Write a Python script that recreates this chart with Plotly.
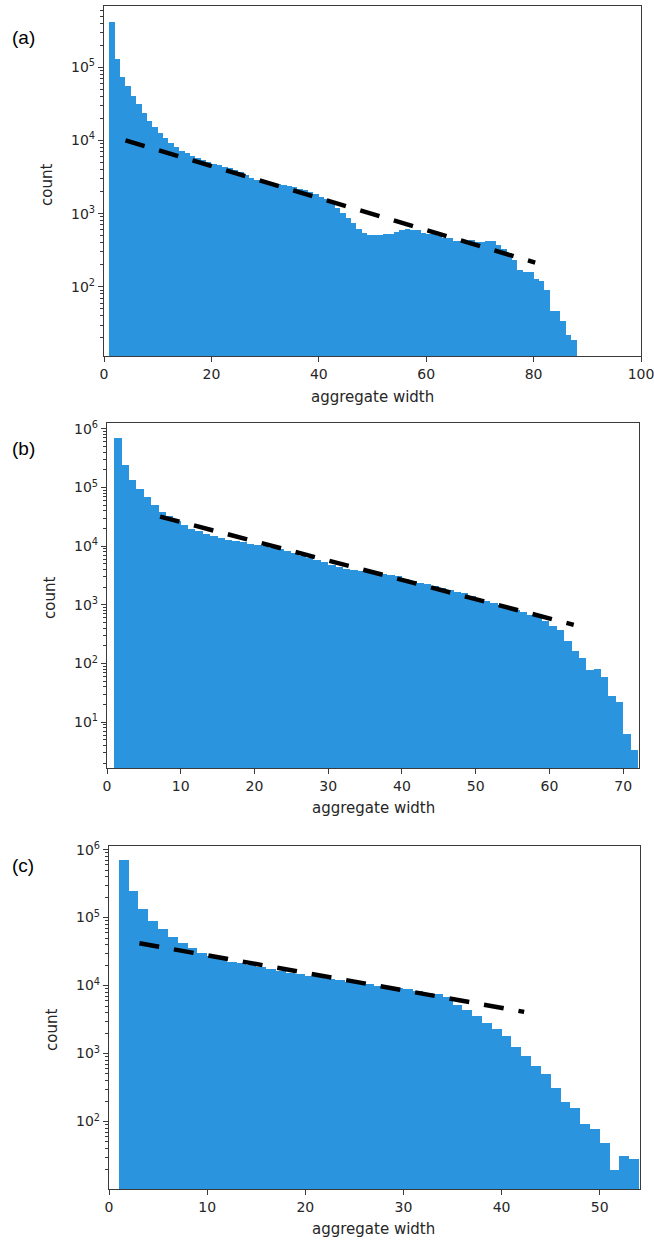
import plotly.graph_objects as go

# Histogram bin edges (aggregate width) for the three samples
a_edges = list(range(1, 89))
b_edges = list(range(1, 73))
c_edges = list(range(1, 55))

# Counts per bin
a_counts = [
    4.1e5, 1.29e5, 7.4e4, 5.5e4, 4.0e4, 3.1e4, 2.4e4, 1.86e4, 1.54e4, 1.25e4,
    1.09e4, 9300, 8200, 7200, 6800, 6100, 5800, 5400, 5100, 4800,
    4600, 4400, 4200, 4000, 3700, 3400, 3100, 2900, 2750, 2650,
    2600, 2500, 2450, 2350, 2300, 2200, 2100, 2000, 1850, 1700,
    1600, 1400, 1200, 1020, 870, 750, 620, 545, 510, 505,
    510, 525, 530, 555, 590, 620, 600, 590, 540, 530,
    530, 490, 465, 465, 420, 420, 420, 430, 410, 410,
    420, 420, 377, 333, 290, 234, 170, 157, 157, 128,
    120, 90, 47, 47, 34, 22, 18.6,
]
b_counts = [
    6.9e5, 2.41e5, 1.32e5, 9.5e4, 7.0e4, 5.1e4, 3.9e4, 3.28e4, 2.7e4, 2.28e4,
    2.0e4, 1.8e4, 1.62e4, 1.5e4, 1.39e4, 1.3e4, 1.24e4, 1.16e4, 1.1e4, 1.06e4,
    1.02e4, 9500, 8900, 8300, 7600, 6900, 6400, 5900, 5300, 4800,
    4470, 4080, 3930, 3820, 3730, 3590, 3360, 3230, 3070, 2760,
    2510, 2360, 2270, 2080, 1950, 1800, 1680, 1600, 1440, 1260,
    1180, 1080, 980, 915, 830, 750, 675, 617, 540, 440,
    366, 238, 164, 124, 79, 82, 59, 28, 22, 6.3,
    3.3,
]
c_counts = [
    7.1e5, 2.44e5, 1.34e5, 8.8e4, 6.8e4, 5.2e4, 4.2e4, 3.55e4, 3.03e4, 2.71e4,
    2.43e4, 2.19e4, 2.12e4, 2.02e4, 1.87e4, 1.77e4, 1.65e4, 1.51e4, 1.46e4, 1.38e4,
    1.32e4, 1.26e4, 1.2e4, 1.14e4, 1.1e4, 1.05e4, 9900, 9600, 9200, 8800,
    8300, 7800, 7500, 6900, 5170, 4370, 3560, 2840, 2270, 1830,
    1260, 922, 664, 500, 315, 193, 157, 92, 78, 48,
    19.5, 31, 28,
]

# Exponential fits (straight lines on the log axis): end points
a_fit_x = [4.0, 80.3]
a_fit_y = [1.0e4, 214]
b_fit_x = [7.2, 63.3]
b_fit_y = [3.2e4, 457]
c_fit_x = [3.1, 42.3]
c_fit_y = [4.2e4, 4.1e3]

# Tick values and labels
a_xticks = [0, 20, 40, 60, 80, 100]
b_xticks = [0, 10, 20, 30, 40, 50, 60, 70]
c_xticks = [0, 10, 20, 30, 40, 50]
y_tickvals = [10, 100, 1000, 10000, 100000, 1000000]
y_ticktext = ["10<sup>1</sup>", "10<sup>2</sup>", "10<sup>3</sup>",
              "10<sup>4</sup>", "10<sup>5</sup>", "10<sup>6</sup>"]
# log minor ticks at 2..9 times each decade
y_minor_vals = [m * 10 ** e for e in range(0, 7) for m in range(2, 10)]

BAR_COLOR = "#2a94de"
TEXT = "#262626"
W, H = 654, 1240

panels = [
    dict(edges=a_edges, counts=a_counts, fx=a_fit_x, fy=a_fit_y, xticks=a_xticks,
         xr=[0, 100], yr=[1.055, 5.836], box=(104, 641, 6, 356), label="(a)",
         label_xy=(23, 38), count_xy=(47, 185), xt_xy=(372, 397)),
    dict(edges=b_edges, counts=b_counts, fx=b_fit_x, fy=b_fit_y, xticks=b_xticks,
         xr=[0, 72.15], yr=[0.219, 6.1], box=(107, 639, 423, 768), label="(b)",
         label_xy=(23, 448), count_xy=(50, 598), xt_xy=(373, 808)),
    dict(edges=c_edges, counts=c_counts, fx=c_fit_x, fy=c_fit_y, xticks=c_xticks,
         xr=[0, 54.1], yr=[1.007, 6.053], box=(109, 640, 846, 1189), label="(c)",
         label_xy=(23, 865), count_xy=(52, 1030), xt_xy=(373, 1229)),
]

fig = go.Figure()
annotations = []
for i, p in enumerate(panels, start=1):
    xa = "x" if i == 1 else f"x{i}"
    ya = "y" if i == 1 else f"y{i}"
    edges = p["edges"]
    centers = [(edges[k] + edges[k + 1]) / 2 for k in range(len(edges) - 1)]
    widths = [edges[k + 1] - edges[k] for k in range(len(edges) - 1)]
    fig.add_trace(go.Bar(x=centers, y=p["counts"], width=widths, xaxis=xa, yaxis=ya,
                         marker=dict(color=BAR_COLOR, line=dict(width=0)),
                         showlegend=False))
    fig.add_trace(go.Scatter(x=p["fx"], y=p["fy"], mode="lines", xaxis=xa, yaxis=ya,
                             line=dict(color="black", width=4.5, dash="20px,15px"),
                             showlegend=False))
    x0, x1, y0, y1 = p["box"]
    axis_common = dict(showline=True, linecolor="#3a3a3a", linewidth=1.2, mirror=True,
                       ticks="outside", ticklen=5, tickwidth=1, tickcolor="#3a3a3a",
                       showgrid=False, zeroline=False, automargin=False,
                       ticklabeloverflow="allow",
                       tickfont=dict(family="DejaVu Sans", size=14, color=TEXT))
    fig.layout[("xaxis" if i == 1 else f"xaxis{i}")] = dict(
        domain=[x0 / W, x1 / W], anchor=ya, range=p["xr"],
        tickmode="array", tickvals=p["xticks"], **axis_common)
    fig.layout[("yaxis" if i == 1 else f"yaxis{i}")] = dict(
        domain=[1 - y1 / H, 1 - y0 / H], anchor=xa, type="log", range=p["yr"],
        tickmode="array", tickvals=y_tickvals, ticktext=y_ticktext,
        minor=dict(tickmode="array", tickvals=y_minor_vals, ticks="outside",
                   ticklen=2.5, tickwidth=0.8, tickcolor="#3a3a3a", showgrid=False),
        **axis_common)
    lx, ly = p["label_xy"]
    annotations.append(dict(text=p["label"], x=lx / W, y=1 - ly / H, xref="paper", yref="paper",
                            showarrow=False, font=dict(family="Liberation Sans", size=19, color="black"),
                            xanchor="center", yanchor="middle"))
    cx, cy = p["count_xy"]
    annotations.append(dict(text="count", x=cx / W, y=1 - cy / H, xref="paper", yref="paper",
                            showarrow=False, textangle=-90,
                            font=dict(family="DejaVu Sans", size=15, color=TEXT),
                            xanchor="center", yanchor="middle"))
    tx, ty = p["xt_xy"]
    annotations.append(dict(text="aggregate width", x=tx / W, y=1 - ty / H, xref="paper", yref="paper",
                            showarrow=False, font=dict(family="DejaVu Sans", size=15, color=TEXT),
                            xanchor="center", yanchor="middle"))

fig.update_layout(width=W, height=H, margin=dict(l=0, r=0, t=0, b=0, pad=0),
                  paper_bgcolor="white", plot_bgcolor="white", bargap=0,
                  template="none", annotations=annotations)

fig.write_html("out.html")
